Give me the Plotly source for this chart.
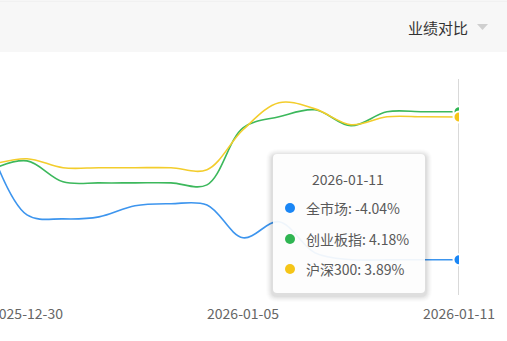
import plotly.graph_objects as go

dates = ["2025-12-29", "2025-12-30", "2025-12-31", "2026-01-01", "2026-01-02", "2026-01-03",
         "2026-01-04", "2026-01-05", "2026-01-06", "2026-01-07", "2026-01-08", "2026-01-09",
         "2026-01-10", "2026-01-11"]
market = [2.10, -1.55, -1.77, -1.66, -1.04, -0.93, -1.00, -2.82, -1.93, -3.66, -4.04, -4.04, -4.04, -4.04]
chinext = [0.96, 1.45, 0.29, 0.23, 0.23, 0.23, 0.12, 3.29, 3.90, 4.29, 3.40, 4.18, 4.18, 4.18]
hs300 = [1.23, 1.57, 1.07, 1.07, 1.07, 1.07, 0.96, 3.18, 4.68, 4.34, 3.46, 3.90, 3.90, 3.89]
series_names = ["全市场", "创业板指", "沪深300"]
line_colors = ["#3d95ee", "#3cb85c", "#f3cd2c"]
dot_colors = ["#1a86f5", "#2fb552", "#f5c518"]
tick_vals = ["2025-12-30", "2026-01-05", "2026-01-11"]
hover_date = "2026-01-11"
title_text = "业绩对比"

W, H = 507, 341
L, R, T, B = 0, 48, 79, 46
PW, PH = W - L - R, H - T - B

def px(x):
    return (x - L) / PW

def py(y):
    return (H - B - y) / PH

fig = go.Figure()
for name, vals, c in zip(series_names, [market, chinext, hs300], line_colors):
    fig.add_trace(go.Scatter(x=dates, y=vals, mode="lines", name=name,
                             line=dict(color=c, width=1.6, shape="spline", smoothing=1.0),
                             hoverinfo="skip"))
for name, vals, c in zip(series_names, [market, chinext, hs300], dot_colors):
    fig.add_trace(go.Scatter(x=[dates[-1]], y=[vals[-1]], mode="markers",
                             marker=dict(size=11, color=c, line=dict(color="white", width=2)),
                             hoverinfo="skip"))

shapes = []
# header bar
shapes.append(dict(type="rect", xref="paper", yref="paper", x0=px(-5), x1=px(W + 5),
                   y0=py(52), y1=py(1), fillcolor="#f7f7f7", line=dict(width=0), layer="below"))
shapes.append(dict(type="line", xref="paper", yref="paper", x0=px(-5), x1=px(W + 5),
                   y0=py(1), y1=py(1), line=dict(color="#ececec", width=1), layer="below"))
# axis pointer line
shapes.append(dict(type="line", xref="x", yref="paper", x0=hover_date, x1=hover_date,
                   y0=0, y1=1, line=dict(color="#cccccc", width=1.5), layer="below"))
# header dropdown triangle
shapes.append(dict(type="path", xref="paper", yref="paper",
                   path=f"M {px(477)} {py(24)} L {px(488)} {py(24)} L {px(482.5)} {py(30)} Z",
                   fillcolor="#cfcfcf", line=dict(width=0)))

# tooltip box with shadow
x0, x1, y0, y1, r = 273, 425, 154, 293, 4

def rrect(x0, x1, y0, y1, r):
    return (f"M {px(x0 + r)} {py(y0)} L {px(x1 - r)} {py(y0)} Q {px(x1)} {py(y0)} {px(x1)} {py(y0 + r)} "
            f"L {px(x1)} {py(y1 - r)} Q {px(x1)} {py(y1)} {px(x1 - r)} {py(y1)} "
            f"L {px(x0 + r)} {py(y1)} Q {px(x0)} {py(y1)} {px(x0)} {py(y1 - r)} "
            f"L {px(x0)} {py(y0 + r)} Q {px(x0)} {py(y0)} {px(x0 + r)} {py(y0)} Z")

for i, a in enumerate([0.012, 0.016, 0.02, 0.024, 0.028, 0.03]):
    d = 7 - i
    shapes.append(dict(type="path", xref="paper", yref="paper",
                       path=rrect(x0 - d, x1 + d, y0 - d + 2, y1 + d + 2, r + d),
                       fillcolor=f"rgba(0,0,0,{a})", line=dict(width=0), layer="above"))
shapes.append(dict(type="path", xref="paper", yref="paper", path=rrect(x0, x1, y0, y1, r),
                   fillcolor="rgba(255,255,255,0.92)", line=dict(width=0), layer="above"))

annotations = []
annotations.append(dict(xref="paper", yref="paper", x=px(348), y=py(179), text=hover_date,
                        showarrow=False, xanchor="center", yanchor="middle",
                        font=dict(family="Noto Sans CJK SC", size=14, color="#595959")))
rows_y = [208, 239, 269]
for name, vals, c, ry in zip(series_names, [market, chinext, hs300], dot_colors, rows_y):
    rr = 5
    shapes.append(dict(type="circle", xref="paper", yref="paper",
                       x0=px(290 - rr), x1=px(290 + rr), y0=py(ry + rr), y1=py(ry - rr),
                       fillcolor=c, line=dict(width=0), layer="above"))
    annotations.append(dict(xref="paper", yref="paper", x=px(304), y=py(ry),
                            text=f"{name}: {vals[-1]:.2f}%", showarrow=False,
                            xanchor="left", yanchor="middle",
                            font=dict(family="Noto Sans CJK SC", size=14, color="#595959")))

annotations.append(dict(xref="paper", yref="paper", x=px(470), y=py(27), text=title_text,
                        showarrow=False, xanchor="right", yanchor="middle",
                        font=dict(family="Noto Sans CJK SC", size=15, color="#333333")))

fig.update_layout(
    width=W, height=H, margin=dict(l=L, r=R, t=T, b=B, autoexpand=False),
    paper_bgcolor="white", plot_bgcolor="white", showlegend=False,
    shapes=shapes, annotations=annotations,
    xaxis=dict(type="date", range=["2025-12-29 06:00", "2026-01-11"], tickvals=tick_vals,
               tickformat="%Y-%m-%d", showgrid=False, zeroline=False, showline=False,
               ticks="", ticklabeloverflow="allow", ticklabelstandoff=9, automargin=False,
               tickfont=dict(family="Noto Sans CJK SC", size=14, color="#666666")),
    yaxis=dict(range=[-6, 6], showgrid=False, zeroline=False, showticklabels=False,
               showline=False, ticks="", automargin=False),
)
fig.write_html("out.html")
